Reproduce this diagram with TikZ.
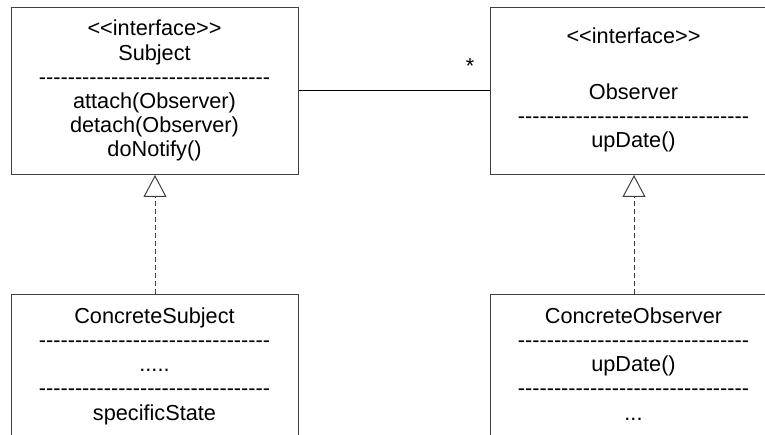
\documentclass[tikz,border=0pt]{standalone}
\usepackage{fontspec}
\setmainfont{Liberation Sans}[Ligatures=TeXOff]
\usetikzlibrary{arrows.meta}
\newcommand\sepline{--------------------------------}

\begin{document}
\begin{tikzpicture}[x=1pt, y=-1pt, line width=1pt,
    classbox/.style={draw=black!75, minimum width=287pt, minimum height=167pt,
      anchor=north west, inner sep=0pt},
    classtext/.style={align=center, anchor=base, inner sep=0pt,
      font=\fontsize{21.7}{24.2}\selectfont},
    realizes/.style={draw=black!75, dash pattern=on 5pt off 3pt,
      -{Triangle[open, length=22pt, width=23pt]}}]
  \clip (0, 0) rectangle (765, 435);

  % interfaces (text nodes sit on the baseline of their last line)
  \node [classbox] (subject) at (11, 7) {};
  \node [classtext] (subjecttext) at (154.5, 157)
    {<<interface>>\\Subject\\\sepline\\attach(Observer)\\detach(Observer)\\doNotify()};
  \node [classbox] (observer) at (490, 7) {};
  \node [classtext] (observertext) at (633.5, 147.5)
    {<<interface>>\\[31pt]Observer\\\sepline\\upDate()};

  % concrete classes
  \node [classbox] (concsubject) at (11, 294) {};
  \node [classtext] (concsubjecttext) at (154.5, 420)
    {ConcreteSubject\\\sepline\\.....\\\sepline\\specificState};
  \node [classbox] (concobserver) at (490, 294) {};
  \node [classtext] (concobservertext) at (633.5, 420)
    {ConcreteObserver\\\sepline\\upDate()\\\sepline\\...};

  % relations
  \draw (subject.east) -- (observer.west);
  \node [classtext] (many) at (470, 74) {*};
  \draw [realizes] (concsubject.north) -- (subject.south);
  \draw [realizes] (concobserver.north) -- (observer.south);
\end{tikzpicture}
\end{document}
